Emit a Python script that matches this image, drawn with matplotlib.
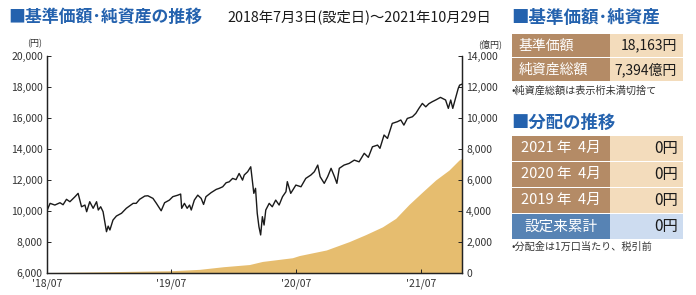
"""基準価額・純資産の推移 + 右側の表"""
import pandas as pd
import matplotlib
matplotlib.use('Agg')
import matplotlib.pyplot as plt
from matplotlib.patches import Rectangle
from matplotlib.ticker import FuncFormatter, MultipleLocator

# 基準価額（円）
nav_dates = ['2018-07-03', '2018-07-12', '2018-07-26', '2018-08-10', '2018-08-19', '2018-08-29',
             '2018-09-08', '2018-09-23', '2018-10-02', '2018-10-12', '2018-10-22', '2018-10-27',
             '2018-11-05', '2018-11-15', '2018-11-25', '2018-11-30', '2018-12-07', '2018-12-14',
             '2018-12-24', '2018-12-29', '2019-01-03', '2019-01-12', '2019-01-22', '2019-02-06',
             '2019-02-20', '2019-03-12', '2019-03-21', '2019-03-31', '2019-04-15', '2019-04-24',
             '2019-05-09', '2019-05-19', '2019-06-02', '2019-06-12', '2019-06-26', '2019-07-06',
             '2019-07-21', '2019-07-29', '2019-08-01', '2019-08-09', '2019-08-17', '2019-08-24',
             '2019-08-29', '2019-09-07', '2019-09-17', '2019-09-27', '2019-10-04', '2019-10-11',
             '2019-10-26', '2019-11-10', '2019-11-19', '2019-11-29', '2019-12-09', '2019-12-18',
             '2019-12-28', '2020-01-07', '2020-01-16', '2020-01-26', '2020-01-31', '2020-02-10',
             '2020-02-19', '2020-02-28', '2020-03-04', '2020-03-09', '2020-03-14', '2020-03-19',
             '2020-03-24', '2020-03-29', '2020-04-03', '2020-04-13', '2020-04-22', '2020-05-02',
             '2020-05-12', '2020-05-22', '2020-06-01', '2020-06-05', '2020-06-15', '2020-06-30',
             '2020-07-15', '2020-07-29', '2020-08-13', '2020-08-23', '2020-09-02', '2020-09-09',
             '2020-09-21', '2020-10-01', '2020-10-11', '2020-10-21', '2020-10-28', '2020-11-04',
             '2020-11-18', '2020-12-03', '2020-12-18', '2021-01-01', '2021-01-16', '2021-01-28',
             '2021-02-09', '2021-02-24', '2021-03-03', '2021-03-15', '2021-03-25', '2021-04-08',
             '2021-04-23', '2021-05-03', '2021-05-12', '2021-05-22', '2021-06-06', '2021-06-16',
             '2021-06-25', '2021-07-05', '2021-07-15', '2021-07-24', '2021-08-03', '2021-08-13',
             '2021-08-27', '2021-09-11', '2021-09-19', '2021-09-26', '2021-10-02', '2021-10-10',
             '2021-10-18', '2021-10-22', '2021-10-29']
nav_values = [10000, 10470, 10360, 10510, 10380, 10730,
              10575, 10900, 11115, 10250, 10360, 9930,
              10575, 10150, 10575, 10040, 10250, 9930,
              8640, 9000, 8750, 9390, 9650, 9830,
              10150, 10470, 10470, 10730, 10940, 10960,
              10790, 10470, 9990, 10510, 10680, 10900,
              11000, 11070, 10150, 10470, 10150, 10360,
              10040, 10680, 11000, 10790, 10400, 10900,
              11160, 11370, 11440, 11540, 11800, 11860,
              12080, 12000, 12400, 11970, 12300, 12510,
              12830, 11115, 11440, 9830, 8960, 8430,
              9610, 9070, 10040, 10470, 10250, 10680,
              10360, 10900, 11220, 11870, 11115, 11650,
              11540, 12080, 12300, 12510, 12940, 12190,
              11760, 12190, 12730, 12190, 11760, 12730,
              12940, 13050, 13260, 13150, 13700, 13440,
              14120, 14230, 14020, 14880, 14660, 15630,
              15740, 15850, 15520, 15950, 16060, 16280,
              16600, 16920, 16700, 16900, 17030, 17140,
              17310, 17140, 16600, 17140, 16600, 17250,
              17890, 18100, 18163]

# 純資産総額（億円）
aum_dates = ['2018-07-03', '2018-10-01', '2019-01-01', '2019-04-01', '2019-07-01', '2019-09-22',
             '2019-12-01', '2020-02-15', '2020-03-24', '2020-06-20', '2020-07-10', '2020-09-27',
             '2020-12-03', '2021-01-20', '2021-03-10', '2021-04-18', '2021-05-27', '2021-07-05',
             '2021-08-13', '2021-09-21', '2021-10-20', '2021-10-29']
aum_values = [5, 30, 60, 90, 120, 210,
              380, 520, 720, 960, 1100, 1460,
              2000, 2450, 2950, 3500, 4400, 5200,
              5980, 6620, 7260, 7394]

# 右側の表
nav_table_labels = ['基準価額', '純資産総額']
nav_table_values = ['18,163円', '7,394億円']
dist_labels = ['2021 年  4月', '2020 年  4月', '2019 年  4月', '設定来累計']
dist_values = ['0円', '0円', '0円', '0円']

plt.rcParams['font.family'] = ['Noto Sans CJK JP', 'DejaVu Sans']

BLUE = '#2462ae'
GOLD = '#e6bd6f'
BROWN = '#b48b66'
PEACH = '#f3dcbc'
STEEL = '#5783b4'
LIGHTBLUE = '#cddcf0'
TXT = '#333333'

fig = plt.figure(figsize=(6.96, 2.95), dpi=100)

# 基準価額・純資産グラフ
W, H = 696, 295
ax = fig.add_axes([47 / W, 1 - 272.6 / H, (462 - 47) / W, (272.6 - 55.7) / H])
ax2 = ax.twinx()
ax.set_zorder(ax2.get_zorder() + 1)
ax.patch.set_visible(False)

ad = pd.to_datetime(aum_dates)
ax2.fill_between(ad, 0, aum_values, color=GOLD, linewidth=0)
ax2.set_ylim(0, 14000)
ax2.yaxis.set_major_locator(MultipleLocator(2000))

nd = pd.to_datetime(nav_dates)
ax.plot(nd, nav_values, color='#1a1a1a', linewidth=1.0)
ax.set_ylim(6000, 20000)
ax.yaxis.set_major_locator(MultipleLocator(2000))
ax.set_xlim(pd.Timestamp('2018-07-03'), pd.Timestamp('2021-10-29'))

ticks = pd.to_datetime(['2018-07-03', '2019-07-01', '2020-07-01', '2021-07-01'])
ax.set_xticks(ticks)
ax.set_xticklabels(["'18/07", "'19/07", "'20/07", "'21/07"])

fmt = FuncFormatter(lambda v, p: '{:,.0f}'.format(v))
ax.yaxis.set_major_formatter(fmt)
ax2.yaxis.set_major_formatter(fmt)

for a in (ax, ax2):
    a.spines['top'].set_visible(False)
    for s in ('left', 'right', 'bottom'):
        a.spines[s].set_color('#222222')
        a.spines[s].set_linewidth(0.9)
    a.tick_params(direction='in', length=3, width=0.7, colors='#222222',
                  labelsize=7.5, labelcolor=TXT, pad=3)
ax.tick_params(axis='x', pad=4)

fig.text(35 / W, 1 - 44 / H, '(円)', fontsize=6.5, color=TXT, ha='center', va='center')
fig.text(490 / W, 1 - 44 / H, '(億円)', fontsize=6.5, color=TXT, ha='center', va='center')

# タイトル
fig.text(8 / W, 1 - 17 / H, '■基準価額･純資産の推移', fontsize=12.2, color=BLUE,
         fontweight='bold', ha='left', va='center')
fig.text(227 / W, 1 - 17 / H, '2018年7月3日(設定日)～2021年10月29日', fontsize=10.3,
         color='#1a1a1a', ha='left', va='center')

# 右側パネル（ピクセル座標のオーバーレイ）
ov = fig.add_axes([0, 0, 1, 1])
ov.set_xlim(0, W)
ov.set_ylim(H, 0)
ov.axis('off')
ov.set_zorder(-1)

ov.text(511, 18, '■基準価額･純資産', fontsize=12.6, color=BLUE, fontweight='bold',
        ha='left', va='center')
x0, xm, x1 = 512, 610, 683
row_tops = [34, 58]
for i, (lab, val) in enumerate(zip(nav_table_labels, nav_table_values)):
    y = row_tops[i]
    ov.add_patch(Rectangle((x0, y), xm - x0, 23, facecolor=BROWN, edgecolor='none'))
    ov.add_patch(Rectangle((xm, y), x1 - xm, 23, facecolor=PEACH, edgecolor='none'))
    ov.text(x0 + 7, y + 11.5, lab, fontsize=10, color='white', ha='left', va='center')
    ov.text(x1 - 6, y + 11.5, val, fontsize=10, color='#1a1a1a', ha='right', va='center')
ov.text(511, 91, '•純資産総額は表示桁未満切捨て', fontsize=7.3, color=TXT, ha='left', va='center')

ov.text(511, 123, '■分配の推移', fontsize=12.5, color=BLUE, fontweight='bold',
        ha='left', va='center')
dist_tops = [136, 162, 188, 214]
for i, (lab, val) in enumerate(zip(dist_labels, dist_values)):
    y = dist_tops[i]
    last = i == len(dist_labels) - 1
    ov.add_patch(Rectangle((x0, y), xm - x0, 24.5,
                           facecolor=STEEL if last else BROWN, edgecolor='none'))
    ov.add_patch(Rectangle((xm, y), x1 - xm, 24.5,
                           facecolor=LIGHTBLUE if last else PEACH, edgecolor='none'))
    ov.text((x0 + xm) / 2, y + 12.25, lab, fontsize=10.5, color='white', ha='center', va='center')
    ov.text(x1 - 5, y + 12.25, val, fontsize=11, color='#1a1a1a', ha='right', va='center')
ov.text(511, 247, '•分配金は1万口当たり、税引前', fontsize=7.3, color=TXT, ha='left', va='center')

fig.savefig('out.png', dpi=100)
